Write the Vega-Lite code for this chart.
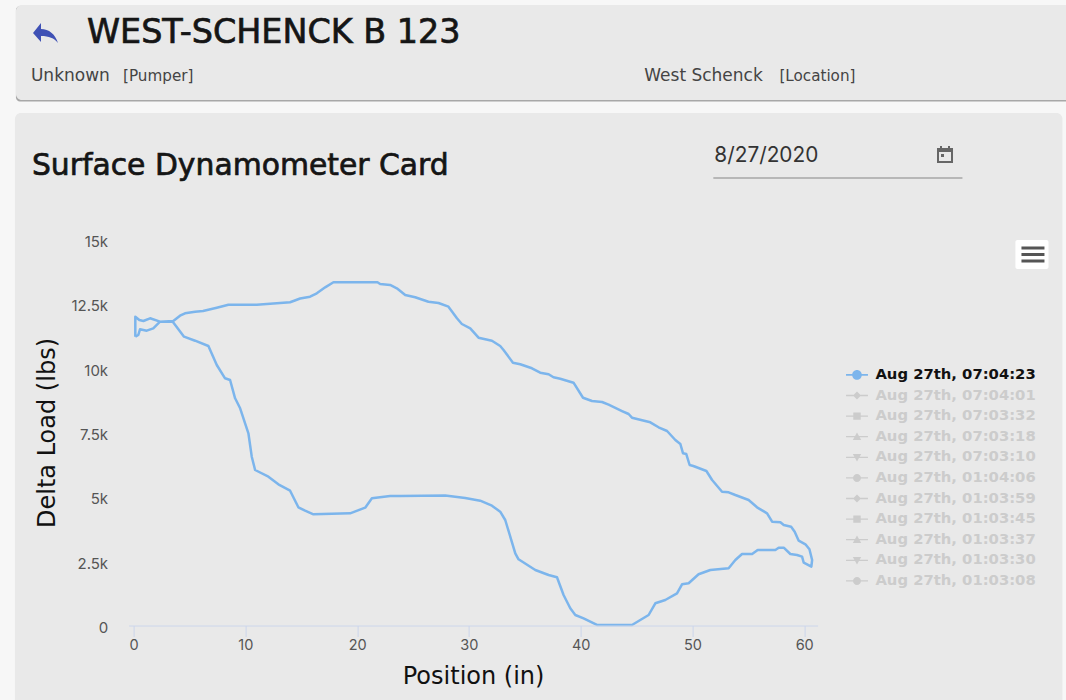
{"$schema":"https://vega.github.io/schema/vega-lite/v6.json","width":689,"height":386,"autosize":{"type":"none"},"padding":{"left":128.6,"top":239.5,"right":248.4,"bottom":74.5},"background":"#f7f7f7","config":{"view":{"stroke":null},"font":"Inter"},"datasets":{"series":[{"s":"Aug 27th, 07:04:23","x":0.15,"y":11223},{"s":"Aug 27th, 07:04:23","x":0.15,"y":12000},{"s":"Aug 27th, 07:04:23","x":0.51,"y":11872},{"s":"Aug 27th, 07:04:23","x":0.87,"y":11833},{"s":"Aug 27th, 07:04:23","x":1.47,"y":11938},{"s":"Aug 27th, 07:04:23","x":2.36,"y":11806},{"s":"Aug 27th, 07:04:23","x":3.55,"y":11833},{"s":"Aug 27th, 07:04:23","x":4.15,"y":12039},{"s":"Aug 27th, 07:04:23","x":4.6,"y":12132},{"s":"Aug 27th, 07:04:23","x":5.5,"y":12194},{"s":"Aug 27th, 07:04:23","x":6.21,"y":12222},{"s":"Aug 27th, 07:04:23","x":7.44,"y":12350},{"s":"Aug 27th, 07:04:23","x":8.48,"y":12466},{"s":"Aug 27th, 07:04:23","x":11.02,"y":12466},{"s":"Aug 27th, 07:04:23","x":14,"y":12560},{"s":"Aug 27th, 07:04:23","x":14.9,"y":12707},{"s":"Aug 27th, 07:04:23","x":15.79,"y":12777},{"s":"Aug 27th, 07:04:23","x":16.39,"y":12909},{"s":"Aug 27th, 07:04:23","x":17.14,"y":13142},{"s":"Aug 27th, 07:04:23","x":17.88,"y":13337},{"s":"Aug 27th, 07:04:23","x":21.82,"y":13337},{"s":"Aug 27th, 07:04:23","x":22.06,"y":13271},{"s":"Aug 27th, 07:04:23","x":22.95,"y":13232},{"s":"Aug 27th, 07:04:23","x":23.55,"y":13104},{"s":"Aug 27th, 07:04:23","x":24.3,"y":12843},{"s":"Aug 27th, 07:04:23","x":25.19,"y":12754},{"s":"Aug 27th, 07:04:23","x":26.38,"y":12583},{"s":"Aug 27th, 07:04:23","x":27.28,"y":12532},{"s":"Aug 27th, 07:04:23","x":28.17,"y":12389},{"s":"Aug 27th, 07:04:23","x":28.93,"y":11938},{"s":"Aug 27th, 07:04:23","x":29.37,"y":11716},{"s":"Aug 27th, 07:04:23","x":30.12,"y":11549},{"s":"Aug 27th, 07:04:23","x":30.86,"y":11184},{"s":"Aug 27th, 07:04:23","x":32.06,"y":11067},{"s":"Aug 27th, 07:04:23","x":32.8,"y":10861},{"s":"Aug 27th, 07:04:23","x":33.1,"y":10706},{"s":"Aug 27th, 07:04:23","x":33.94,"y":10212},{"s":"Aug 27th, 07:04:23","x":34.59,"y":10150},{"s":"Aug 27th, 07:04:23","x":35.64,"y":9995},{"s":"Aug 27th, 07:04:23","x":36.38,"y":9824},{"s":"Aug 27th, 07:04:23","x":37.13,"y":9762},{"s":"Aug 27th, 07:04:23","x":37.57,"y":9645},{"s":"Aug 27th, 07:04:23","x":38.17,"y":9591},{"s":"Aug 27th, 07:04:23","x":39.36,"y":9435},{"s":"Aug 27th, 07:04:23","x":40.21,"y":8852},{"s":"Aug 27th, 07:04:23","x":41.01,"y":8724},{"s":"Aug 27th, 07:04:23","x":41.91,"y":8685},{"s":"Aug 27th, 07:04:23","x":42.5,"y":8580},{"s":"Aug 27th, 07:04:23","x":43.7,"y":8335},{"s":"Aug 27th, 07:04:23","x":44.29,"y":8219},{"s":"Aug 27th, 07:04:23","x":44.59,"y":8075},{"s":"Aug 27th, 07:04:23","x":46.23,"y":7896},{"s":"Aug 27th, 07:04:23","x":46.97,"y":7702},{"s":"Aug 27th, 07:04:23","x":47.73,"y":7558},{"s":"Aug 27th, 07:04:23","x":48.47,"y":7209},{"s":"Aug 27th, 07:04:23","x":48.92,"y":7053},{"s":"Aug 27th, 07:04:23","x":49.16,"y":6692},{"s":"Aug 27th, 07:04:23","x":49.45,"y":6664},{"s":"Aug 27th, 07:04:23","x":49.75,"y":6237},{"s":"Aug 27th, 07:04:23","x":50.08,"y":6198},{"s":"Aug 27th, 07:04:23","x":51.25,"y":6004},{"s":"Aug 27th, 07:04:23","x":51.76,"y":5654},{"s":"Aug 27th, 07:04:23","x":52.65,"y":5200},{"s":"Aug 27th, 07:04:23","x":53.24,"y":5176},{"s":"Aug 27th, 07:04:23","x":53.84,"y":5071},{"s":"Aug 27th, 07:04:23","x":55.03,"y":4877},{"s":"Aug 27th, 07:04:23","x":55.78,"y":4593},{"s":"Aug 27th, 07:04:23","x":56.68,"y":4360},{"s":"Aug 27th, 07:04:23","x":57.13,"y":4034},{"s":"Aug 27th, 07:04:23","x":57.87,"y":4010},{"s":"Aug 27th, 07:04:23","x":58.17,"y":3905},{"s":"Aug 27th, 07:04:23","x":58.83,"y":3839},{"s":"Aug 27th, 07:04:23","x":59.15,"y":3645},{"s":"Aug 27th, 07:04:23","x":59.51,"y":3295},{"s":"Aug 27th, 07:04:23","x":60.11,"y":3155},{"s":"Aug 27th, 07:04:23","x":60.47,"y":2961},{"s":"Aug 27th, 07:04:23","x":60.71,"y":2545},{"s":"Aug 27th, 07:04:23","x":60.64,"y":2285},{"s":"Aug 27th, 07:04:23","x":59.96,"y":2440},{"s":"Aug 27th, 07:04:23","x":59.81,"y":2674},{"s":"Aug 27th, 07:04:23","x":59.36,"y":2740},{"s":"Aug 27th, 07:04:23","x":58.76,"y":2778},{"s":"Aug 27th, 07:04:23","x":58.17,"y":3023},{"s":"Aug 27th, 07:04:23","x":57.72,"y":3023},{"s":"Aug 27th, 07:04:23","x":57.42,"y":2934},{"s":"Aug 27th, 07:04:23","x":55.84,"y":2934},{"s":"Aug 27th, 07:04:23","x":55.34,"y":2778},{"s":"Aug 27th, 07:04:23","x":54.44,"y":2778},{"s":"Aug 27th, 07:04:23","x":53.84,"y":2545},{"s":"Aug 27th, 07:04:23","x":53.24,"y":2223},{"s":"Aug 27th, 07:04:23","x":51.6,"y":2157},{"s":"Aug 27th, 07:04:23","x":50.55,"y":1990},{"s":"Aug 27th, 07:04:23","x":49.66,"y":1640},{"s":"Aug 27th, 07:04:23","x":49.07,"y":1601},{"s":"Aug 27th, 07:04:23","x":48.62,"y":1251},{"s":"Aug 27th, 07:04:23","x":47.57,"y":991},{"s":"Aug 27th, 07:04:23","x":46.68,"y":863},{"s":"Aug 27th, 07:04:23","x":46.08,"y":408},{"s":"Aug 27th, 07:04:23","x":44.59,"y":20},{"s":"Aug 27th, 07:04:23","x":41.46,"y":20},{"s":"Aug 27th, 07:04:23","x":40.26,"y":280},{"s":"Aug 27th, 07:04:23","x":39.52,"y":408},{"s":"Aug 27th, 07:04:23","x":39.07,"y":668},{"s":"Aug 27th, 07:04:23","x":38.47,"y":1185},{"s":"Aug 27th, 07:04:23","x":37.88,"y":1873},{"s":"Aug 27th, 07:04:23","x":37.13,"y":1962},{"s":"Aug 27th, 07:04:23","x":35.94,"y":2157},{"s":"Aug 27th, 07:04:23","x":34.44,"y":2573},{"s":"Aug 27th, 07:04:23","x":34.15,"y":2806},{"s":"Aug 27th, 07:04:23","x":33.25,"y":4100},{"s":"Aug 27th, 07:04:23","x":32.8,"y":4422},{"s":"Aug 27th, 07:04:23","x":32.06,"y":4655},{"s":"Aug 27th, 07:04:23","x":31.01,"y":4850},{"s":"Aug 27th, 07:04:23","x":29.67,"y":4955},{"s":"Aug 27th, 07:04:23","x":27.88,"y":5052},{"s":"Aug 27th, 07:04:23","x":23.85,"y":5032},{"s":"Aug 27th, 07:04:23","x":22.95,"y":5032},{"s":"Aug 27th, 07:04:23","x":21.32,"y":4943},{"s":"Aug 27th, 07:04:23","x":20.72,"y":4578},{"s":"Aug 27th, 07:04:23","x":19.37,"y":4360},{"s":"Aug 27th, 07:04:23","x":16.09,"y":4321},{"s":"Aug 27th, 07:04:23","x":15.34,"y":4461},{"s":"Aug 27th, 07:04:23","x":14.74,"y":4593},{"s":"Aug 27th, 07:04:23","x":14,"y":5238},{"s":"Aug 27th, 07:04:23","x":12.95,"y":5487},{"s":"Aug 27th, 07:04:23","x":12.06,"y":5782},{"s":"Aug 27th, 07:04:23","x":10.87,"y":6043},{"s":"Aug 27th, 07:04:23","x":10.57,"y":6560},{"s":"Aug 27th, 07:04:23","x":10.27,"y":7469},{"s":"Aug 27th, 07:04:23","x":9.53,"y":8440},{"s":"Aug 27th, 07:04:23","x":9.08,"y":8829},{"s":"Aug 27th, 07:04:23","x":8.63,"y":9540},{"s":"Aug 27th, 07:04:23","x":8.18,"y":9606},{"s":"Aug 27th, 07:04:23","x":7.44,"y":10123},{"s":"Aug 27th, 07:04:23","x":6.69,"y":10861},{"s":"Aug 27th, 07:04:23","x":5.5,"y":11067},{"s":"Aug 27th, 07:04:23","x":4.51,"y":11223},{"s":"Aug 27th, 07:04:23","x":3.5,"y":11806},{"s":"Aug 27th, 07:04:23","x":2.36,"y":11806},{"s":"Aug 27th, 07:04:23","x":1.76,"y":11549},{"s":"Aug 27th, 07:04:23","x":1.17,"y":11456},{"s":"Aug 27th, 07:04:23","x":0.57,"y":11510},{"s":"Aug 27th, 07:04:23","x":0.42,"y":11289},{"s":"Aug 27th, 07:04:23","x":0.15,"y":11223}]},"encoding":{"x":{"field":"x","type":"quantitative","scale":{"domain":[-0.45,61.2],"nice":false,"zero":false},"axis":{"values":[0,10,20,30,40,50,60],"grid":false,"zindex":1,"domainColor":"#ccd6eb","tickColor":"#ccd6eb","tickSize":11,"labelFontSize":14.5,"labelColor":"#555555","labelFont":"Inter","labelPadding":2,"labelFlush":false,"title":"Position (in)","titleFont":"DejaVu Sans","titleFontSize":24,"titleFontWeight":400,"titleColor":"#111111","titlePadding":12,"encode":{"title":{"enter":{"stroke":{"value":"#111111"},"strokeWidth":{"value":0.5}}}}}},"y":{"field":"y","type":"quantitative","scale":{"domain":[0,15000],"nice":false,"zero":false},"axis":{"values":[0,2500,5000,7500,10000,12500,15000],"labelExpr":"datum.value == 0 ? '0' : (datum.value / 1000) + 'k'","grid":false,"domain":false,"ticks":false,"zindex":1,"labelFontSize":15,"labelColor":"#555555","labelFont":"Inter","labelPadding":21,"labelOffset":2,"labelFlush":false,"title":"Delta Load (lbs)","titleFont":"DejaVu Sans","titleFontSize":24,"titleFontWeight":400,"titleColor":"#111111","titlePadding":11,"encode":{"title":{"enter":{"stroke":{"value":"#111111"},"strokeWidth":{"value":0.5}}}}}}},"layer":[{"data":{"values":[{"x":-10.53,"x2":84,"y":24074,"y2":20362}]},"mark":{"type":"rect","color":"#a8a8a8","cornerRadius":4},"encoding":{"x2":{"field":"x2"},"y2":{"field":"y2"}}},{"data":{"values":[{"x":-10.53,"x2":84,"y":24113,"y2":20421},{"x":-10.62,"x2":83.11,"y":19916,"y2":-3672}]},"mark":{"type":"rect","color":"#e9e9e9","cornerRadius":6},"encoding":{"x2":{"field":"x2"},"y2":{"field":"y2"}}},{"data":{"values":[{"x":78.9,"x2":81.86,"y":14981,"y2":13854}]},"mark":{"type":"rect","color":"#ffffff","cornerRadius":2},"encoding":{"x2":{"field":"x2"},"y2":{"field":"y2"}}},{"data":{"values":[{"x":51.87,"x2":74.16,"y":17390}]},"mark":{"type":"rule","color":"#a6a6a6","strokeWidth":1.5},"encoding":{"x2":{"field":"x2"}}},{"data":{"values":[{"x":-7.93,"y":23025}]},"mark":{"type":"point","filled":true,"opacity":1,"size":4,"color":"#3f51b5","shape":"M-12,0 L-4,-10 V-4 C4,-4 10,1 13,10 C9,5 4,3 -4,3 V9 Z"}},{"data":{"values":[{"x":72.6,"y":18284}]},"mark":{"type":"point","filled":true,"opacity":1,"size":4,"color":"#666666","shape":"M-8,-7 H8 V8 H-8 Z M-6,-3 V6 H6 V-3 Z M-4,-1 H-1 V2 H-4 Z M-5,-9 H-3 V-7 H-5 Z M3,-9 H5 V-7 H3 Z"}},{"data":{"values":[{"x":80.47,"y":14417}]},"mark":{"type":"point","filled":true,"opacity":1,"size":4,"color":"#555555","shape":"M-11.5,-8 H11.5 V-5 H-11.5 Z M-11.5,-1.5 H11.5 V1.5 H-11.5 Z M-11.5,5 H11.5 V8 H-11.5 Z"}},{"data":{"values":[{"x":-4.17,"y":22636,"t":"WEST-SCHENCK B 123"}]},"mark":{"type":"text","align":"left","baseline":"alphabetic","font":"DejaVu Sans","fontSize":33.4,"color":"#151515","stroke":"#151515","strokeWidth":0.7},"encoding":{"text":{"field":"t"}}},{"data":{"values":[{"x":-9.1,"y":17506,"t":"Surface Dynamometer Card"}]},"mark":{"type":"text","align":"left","baseline":"alphabetic","font":"DejaVu Sans","fontSize":29.8,"color":"#151515","stroke":"#151515","strokeWidth":0.7},"encoding":{"text":{"field":"t"}}},{"data":{"values":[{"x":-9.19,"y":21159,"t":"Unknown"},{"x":45.69,"y":21159,"t":"West Schenck"}]},"mark":{"type":"text","align":"left","baseline":"alphabetic","font":"DejaVu Sans","fontSize":17,"color":"#444444"},"encoding":{"text":{"field":"t"}}},{"data":{"values":[{"x":-0.95,"y":21159,"t":"[Pumper]"},{"x":57.78,"y":21159,"t":"[Location]"}]},"mark":{"type":"text","align":"left","baseline":"alphabetic","font":"DejaVu Sans","fontSize":15.2,"color":"#444444"},"encoding":{"text":{"field":"t"}}},{"data":{"values":[{"x":51.96,"y":18012,"t":"8/27/2020"}]},"mark":{"type":"text","align":"left","baseline":"alphabetic","font":"Inter","fontSize":20.8,"color":"#333333"},"encoding":{"text":{"field":"t"}}},{"data":{"name":"series"},"mark":{"type":"line","order":false,"strokeWidth":2.5,"strokeJoin":"round","color":"#7cb5ec"},"encoding":{"detail":{"field":"s"}}},{"data":{"name":"series"},"mark":{"type":"point","filled":true,"size":0},"encoding":{"color":{"field":"s","type":"nominal","legend":{"orient":"none","legendX":721,"legendY":128,"title":null,"padding":0,"symbolSize":144,"symbolStrokeWidth":0,"symbolOpacity":1,"labelOffset":11,"labelFont":"DejaVu Sans","labelFontSize":14.8,"labelFontWeight":700,"labelColor":"#cccccc","rowPadding":4.6,"labelLimit":220,"values":["Aug 27th, 07:04:23","Aug 27th, 07:04:01","Aug 27th, 07:03:32","Aug 27th, 07:03:18","Aug 27th, 07:03:10","Aug 27th, 01:04:06","Aug 27th, 01:03:59","Aug 27th, 01:03:45","Aug 27th, 01:03:37","Aug 27th, 01:03:30","Aug 27th, 01:03:08"],"encode":{"labels":{"update":{"fill":{"signal":"datum.value == 'Aug 27th, 07:04:23' ? '#111111' : '#cccccc'"}}}}},"scale":{"domain":["Aug 27th, 07:04:23","Aug 27th, 07:04:01","Aug 27th, 07:03:32","Aug 27th, 07:03:18","Aug 27th, 07:03:10","Aug 27th, 01:04:06","Aug 27th, 01:03:59","Aug 27th, 01:03:45","Aug 27th, 01:03:37","Aug 27th, 01:03:30","Aug 27th, 01:03:08"],"range":["#7cb5ec","#cccccc","#cccccc","#cccccc","#cccccc","#cccccc","#cccccc","#cccccc","#cccccc","#cccccc","#cccccc"]}},"shape":{"field":"s","type":"nominal","legend":{"orient":"none","legendX":721,"legendY":128,"title":null,"padding":0,"symbolSize":144,"symbolStrokeWidth":0,"symbolOpacity":1,"labelOffset":11,"labelFont":"DejaVu Sans","labelFontSize":14.8,"labelFontWeight":700,"labelColor":"#cccccc","rowPadding":4.6,"labelLimit":220,"values":["Aug 27th, 07:04:23","Aug 27th, 07:04:01","Aug 27th, 07:03:32","Aug 27th, 07:03:18","Aug 27th, 07:03:10","Aug 27th, 01:04:06","Aug 27th, 01:03:59","Aug 27th, 01:03:45","Aug 27th, 01:03:37","Aug 27th, 01:03:30","Aug 27th, 01:03:08"],"encode":{"labels":{"update":{"fill":{"signal":"datum.value == 'Aug 27th, 07:04:23' ? '#111111' : '#cccccc'"}}}}},"scale":{"domain":["Aug 27th, 07:04:23","Aug 27th, 07:04:01","Aug 27th, 07:03:32","Aug 27th, 07:03:18","Aug 27th, 07:03:10","Aug 27th, 01:04:06","Aug 27th, 01:03:59","Aug 27th, 01:03:45","Aug 27th, 01:03:37","Aug 27th, 01:03:30","Aug 27th, 01:03:08"],"range":["M-1.83,-0.14 H1.83 V0.14 H-1.83 Z M-0.8,0 A0.8,0.8 0 1,1 0.8,0 A0.8,0.8 0 1,1 -0.8,0 Z","M-1.83,-0.11 H1.83 V0.11 H-1.83 Z M0,-0.67 L0.67,0 L0,0.67 L-0.67,0 Z","M-1.83,-0.11 H1.83 V0.11 H-1.83 Z M-0.62,-0.62 H0.62 V0.62 H-0.62 Z","M-1.83,-0.11 H1.83 V0.11 H-1.83 Z M0,-0.7 L0.7,0.55 H-0.7 Z","M-1.83,-0.11 H1.83 V0.11 H-1.83 Z M-0.7,-0.55 H0.7 L0,0.7 Z","M-1.83,-0.11 H1.83 V0.11 H-1.83 Z M-0.67,0 A0.67,0.67 0 1,1 0.67,0 A0.67,0.67 0 1,1 -0.67,0 Z","M-1.83,-0.11 H1.83 V0.11 H-1.83 Z M0,-0.67 L0.67,0 L0,0.67 L-0.67,0 Z","M-1.83,-0.11 H1.83 V0.11 H-1.83 Z M-0.62,-0.62 H0.62 V0.62 H-0.62 Z","M-1.83,-0.11 H1.83 V0.11 H-1.83 Z M0,-0.7 L0.7,0.55 H-0.7 Z","M-1.83,-0.11 H1.83 V0.11 H-1.83 Z M-0.7,-0.55 H0.7 L0,0.7 Z","M-1.83,-0.11 H1.83 V0.11 H-1.83 Z M-0.67,0 A0.67,0.67 0 1,1 0.67,0 A0.67,0.67 0 1,1 -0.67,0 Z"]}}}}]}
